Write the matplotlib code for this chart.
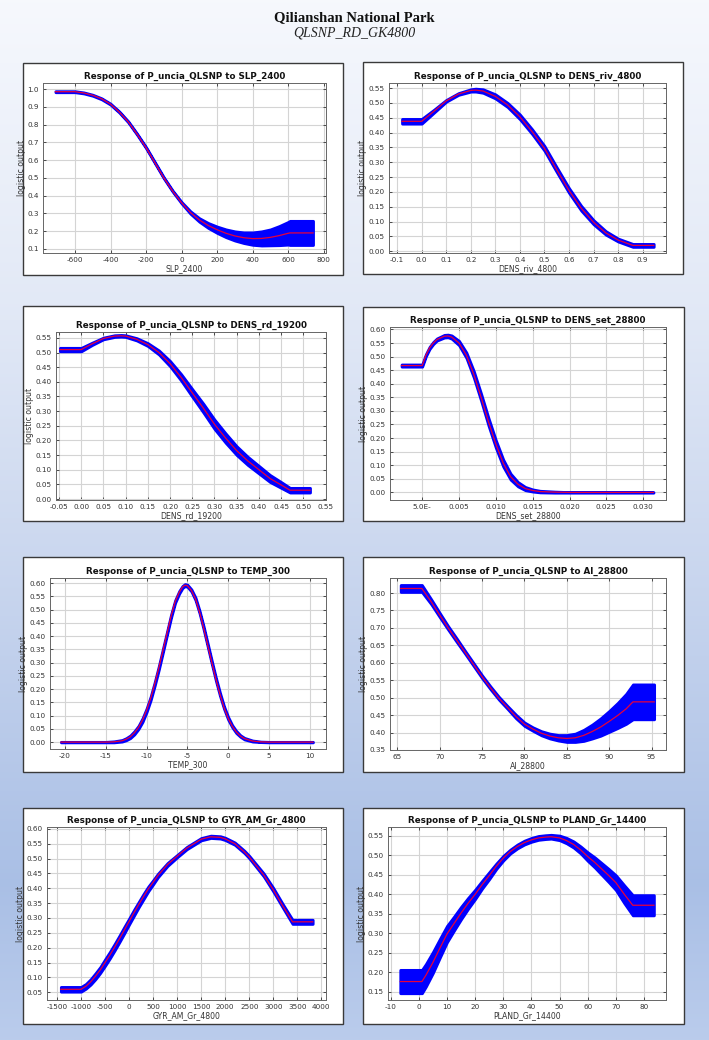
import matplotlib
matplotlib.use("Agg")
import matplotlib.pyplot as plt
import numpy as np
from matplotlib.patches import Rectangle
from matplotlib.ticker import MultipleLocator, FixedLocator, FixedFormatter, FormatStrFormatter

W, H = 709, 1040

# ---- data (mean and +/- sd half-width) ----
slp_x = [-710, -600, -550, -500, -450, -400, -350, -300, -250, -200, -150, -100, -50, 0, 50, 100, 150, 200, 250, 300, 350, 400, 450, 500, 550, 600, 610, 740]
slp_y = [0.985, 0.985, 0.978, 0.965, 0.945, 0.915, 0.87, 0.815, 0.745, 0.67, 0.585, 0.5, 0.425, 0.36, 0.305, 0.263, 0.232, 0.208, 0.188, 0.173, 0.163, 0.158, 0.159, 0.165, 0.175, 0.188, 0.19, 0.19]
slp_sd = [0.003, 0.003, 0.003, 0.003, 0.003, 0.003, 0.003, 0.003, 0.003, 0.003, 0.003, 0.003, 0.003, 0.004, 0.007, 0.01, 0.014, 0.018, 0.022, 0.026, 0.03, 0.035, 0.04, 0.045, 0.054, 0.064, 0.068, 0.068]

riv_x = [-0.08, 0.0, 0.05, 0.1, 0.15, 0.2, 0.22, 0.25, 0.3, 0.35, 0.4, 0.45, 0.5, 0.55, 0.6, 0.65, 0.7, 0.75, 0.8, 0.86, 0.945]
riv_y = [0.438, 0.438, 0.472, 0.507, 0.53, 0.542, 0.543, 0.54, 0.522, 0.493, 0.453, 0.403, 0.347, 0.275, 0.205, 0.145, 0.098, 0.062, 0.038, 0.02, 0.02]
riv_sd = [0.008, 0.008, 0.005, 0.003, 0.003, 0.004, 0.005, 0.006, 0.007, 0.007, 0.008, 0.008, 0.008, 0.008, 0.008, 0.008, 0.007, 0.006, 0.005, 0.005, 0.005]

rd_x = [-0.048, 0.0, 0.025, 0.05, 0.075, 0.09, 0.1, 0.125, 0.15, 0.175, 0.2, 0.225, 0.25, 0.275, 0.3, 0.325, 0.35, 0.375, 0.4, 0.425, 0.45, 0.47, 0.515]
rd_y = [0.51, 0.51, 0.53, 0.548, 0.556, 0.557, 0.556, 0.545, 0.527, 0.5, 0.462, 0.415, 0.362, 0.31, 0.255, 0.208, 0.165, 0.13, 0.1, 0.07, 0.048, 0.03, 0.03]
rd_sd = [0.006, 0.006, 0.004, 0.003, 0.003, 0.003, 0.003, 0.004, 0.005, 0.007, 0.009, 0.011, 0.013, 0.015, 0.016, 0.016, 0.015, 0.014, 0.013, 0.012, 0.01, 0.008, 0.008]

set_x = [-0.0028, 0.0, 0.0005, 0.001, 0.0015, 0.002, 0.003, 0.0035, 0.004, 0.005, 0.006, 0.007, 0.008, 0.009, 0.010, 0.011, 0.012, 0.013, 0.014, 0.015, 0.016, 0.018, 0.020, 0.0314]
set_y = [0.467, 0.467, 0.505, 0.532, 0.55, 0.563, 0.575, 0.576, 0.572, 0.55, 0.505, 0.435, 0.35, 0.26, 0.178, 0.108, 0.058, 0.03, 0.014, 0.007, 0.003, 0.001, 0.0, 0.0]
set_sd = [0.004, 0.004, 0.004, 0.004, 0.004, 0.004, 0.005, 0.005, 0.006, 0.008, 0.01, 0.012, 0.013, 0.014, 0.014, 0.013, 0.011, 0.008, 0.006, 0.004, 0.003, 0.002, 0.001, 0.001]

temp_x = [-20.5, -15, -14, -13, -12.5, -12, -11.5, -11, -10.5, -10, -9.5, -9, -8.5, -8, -7.5, -7, -6.5, -6, -5.6, -5.3, -5, -4.5, -4, -3.5, -3, -2.5, -2, -1.5, -1, -0.5, 0, 0.5, 1, 1.5, 2, 3, 4, 5, 10.4]
temp_y = [0.0, 0.0, 0.001, 0.005, 0.011, 0.02, 0.035, 0.055, 0.083, 0.12, 0.165, 0.22, 0.28, 0.345, 0.41, 0.475, 0.53, 0.565, 0.585, 0.592, 0.59, 0.572, 0.54, 0.49, 0.43, 0.365, 0.3, 0.237, 0.18, 0.13, 0.09, 0.06, 0.038, 0.023, 0.013, 0.004, 0.001, 0.0, 0.0]
temp_sd = [0.001, 0.001, 0.002, 0.003, 0.004, 0.005, 0.006, 0.006, 0.007, 0.007, 0.007, 0.007, 0.007, 0.007, 0.006, 0.006, 0.005, 0.005, 0.004, 0.004, 0.004, 0.004, 0.005, 0.005, 0.006, 0.006, 0.006, 0.006, 0.006, 0.005, 0.005, 0.004, 0.004, 0.003, 0.003, 0.002, 0.001, 0.001, 0.001]

ai_x = [65.4, 67.9, 69, 70, 71, 72, 73, 74, 75, 76, 77, 78, 79, 80, 81, 82, 83, 84, 85, 86, 87, 88, 89, 90, 91, 92, 92.8, 95.3]
ai_y = [0.813, 0.813, 0.775, 0.737, 0.7, 0.665, 0.63, 0.595, 0.56, 0.528, 0.498, 0.472, 0.446, 0.424, 0.41, 0.398, 0.39, 0.385, 0.383, 0.385, 0.392, 0.403, 0.416, 0.432, 0.449, 0.468, 0.488, 0.488]
ai_sd = [0.01, 0.01, 0.007, 0.006, 0.005, 0.005, 0.004, 0.004, 0.004, 0.004, 0.004, 0.004, 0.005, 0.005, 0.005, 0.006, 0.007, 0.008, 0.01, 0.012, 0.016, 0.02, 0.025, 0.03, 0.036, 0.043, 0.05, 0.05]

gyr_x = [-1420, -1000, -900, -800, -700, -600, -500, -400, -300, -200, -100, 0, 100, 200, 300, 400, 500, 600, 800, 1000, 1200, 1400, 1500, 1700, 1900, 2000, 2200, 2400, 2500, 2800, 3000, 3200, 3400, 3820]
gyr_y = [0.06, 0.06, 0.07, 0.085, 0.104, 0.125, 0.15, 0.175, 0.202, 0.23, 0.259, 0.288, 0.317, 0.345, 0.372, 0.398, 0.42, 0.443, 0.48, 0.508, 0.535, 0.555, 0.565, 0.573, 0.571, 0.566, 0.55, 0.522, 0.505, 0.445, 0.395, 0.34, 0.287, 0.287]
gyr_sd = [0.008, 0.008, 0.008, 0.009, 0.01, 0.01, 0.011, 0.011, 0.011, 0.011, 0.011, 0.01, 0.01, 0.009, 0.009, 0.008, 0.007, 0.006, 0.005, 0.004, 0.004, 0.004, 0.004, 0.004, 0.004, 0.004, 0.004, 0.004, 0.004, 0.005, 0.006, 0.006, 0.007, 0.007]

pland_x = [-6.6, 1.1, 2.5, 5, 7.5, 10, 12.5, 15, 17.5, 20, 22.5, 25, 27.5, 30, 32.5, 35, 37.5, 40, 42.5, 45, 47, 50, 52.5, 55, 57.5, 60, 62.5, 65, 67.5, 70, 73, 76, 83.5]
pland_y = [0.176, 0.176, 0.192, 0.225, 0.262, 0.298, 0.325, 0.352, 0.377, 0.4, 0.425, 0.448, 0.472, 0.493, 0.51, 0.523, 0.533, 0.54, 0.545, 0.547, 0.548, 0.545, 0.538, 0.528, 0.514, 0.497, 0.482, 0.465, 0.448, 0.43, 0.4, 0.372, 0.372]
pland_sd = [0.03, 0.03, 0.029, 0.027, 0.024, 0.021, 0.018, 0.016, 0.014, 0.012, 0.01, 0.009, 0.007, 0.006, 0.005, 0.005, 0.005, 0.005, 0.005, 0.005, 0.005, 0.006, 0.007, 0.008, 0.009, 0.011, 0.013, 0.015, 0.017, 0.019, 0.023, 0.026, 0.026]

variables = ["SLP_2400", "DENS_riv_4800", "DENS_rd_19200", "DENS_set_28800",
             "TEMP_300", "AI_28800", "GYR_AM_Gr_4800", "PLAND_Gr_14400"]
curves = [(slp_x, slp_y, slp_sd), (riv_x, riv_y, riv_sd), (rd_x, rd_y, rd_sd),
          (set_x, set_y, set_sd), (temp_x, temp_y, temp_sd), (ai_x, ai_y, ai_sd),
          (gyr_x, gyr_y, gyr_sd), (pland_x, pland_y, pland_sd)]

# panel layout in pixels: box (l, t, r, b), axes (l, t, r, b)
boxes = [(23, 63, 343, 275), (363, 62, 683, 274),
         (23, 306, 343, 521), (363, 307, 684, 521),
         (23, 557, 343, 772), (363, 557, 684, 772),
         (23, 808, 343, 1024), (363, 808, 684, 1024)]
axrects = [(43, 83, 326, 253), (389, 83, 666, 253),
           (56, 332, 326, 500), (390, 327, 666, 500),
           (50, 578, 326, 749), (390, 578, 666, 750),
           (47, 827, 326, 1000), (388, 827, 666, 1000)]
xlims = [(-780, 813), (-0.133, 0.995), (-0.0568, 0.551), (-0.00437, 0.0331),
         (-21.84, 12.0), (64.14, 96.7), (-1708, 4097), (-10.95, 87.8)]
ylims = [(0.077, 1.034), (-0.0056, 0.567), (-0.0034, 0.570), (-0.028, 0.609),
         (-0.026, 0.619), (0.35, 0.843), (0.024, 0.606), (0.1286, 0.573)]
xsteps = [200, 0.1, 0.05, 0.005, 5, 5, 500, 10]
ysteps = [0.1, 0.05, 0.05, 0.05, 0.05, 0.05, 0.05, 0.05]
yfmt = ["%.1f", "%.2f", "%.2f", "%.2f", "%.2f", "%.2f", "%.2f", "%.2f"]
xfmt = ["%d", "%.1f", "%.2f", "%.3f", "%d", "%d", "%d", "%d"]

fig = plt.figure(figsize=(W / 100, H / 100), dpi=100)

# background gradient (light at top, blue toward the bottom)
bg = fig.add_axes([0, 0, 1, 1], zorder=-10)
stops = [0.0, 0.3, 0.55, 0.85, 1.0]
cols = np.array([[0.965, 0.973, 0.992], [0.885, 0.912, 0.965], [0.79, 0.84, 0.935],
                 [0.665, 0.75, 0.9], [0.73, 0.8, 0.925]])
t = np.linspace(0, 1, 400)
grad = np.stack([np.interp(t, stops, cols[:, k]) for k in range(3)], axis=1)
bg.imshow(grad[:, None, :].repeat(2, axis=1), aspect="auto", extent=[0, 1, 0, 1])
bg.set_axis_off()

fig.text(0.5, 1 - 18 / H, "Qilianshan National Park", ha="center", va="center",
         family="Liberation Serif", weight="bold", fontsize=10.5, color="#111111")
fig.text(0.5, 1 - 33 / H, "QLSNP_RD_GK4800", ha="center", va="center",
         family="Liberation Serif", style="italic", fontsize=10, color="#222222")

for i, var in enumerate(variables):
    bl, bt, br, bb = boxes[i]
    fig.patches.append(Rectangle((bl / W, 1 - bb / H), (br - bl) / W, (bb - bt) / H,
                                 transform=fig.transFigure, facecolor="white",
                                 edgecolor="#3a3a3a", linewidth=1.0, zorder=-5))
    al, at, ar, ab = axrects[i]
    ax = fig.add_axes([al / W, 1 - ab / H, (ar - al) / W, (ab - at) / H])
    x, y, sd = curves[i]
    x = np.array(x); y = np.array(y); sd = np.array(sd)
    ax.fill_between(x, y - sd, y + sd, color="#0000ff", edgecolor="#0000ff",
                    linewidth=2.0, zorder=2)
    ax.plot(x, y, color="#e8003a", linewidth=0.9, zorder=3)
    ax.set_xlim(*xlims[i])
    ax.set_ylim(*ylims[i])
    ax.xaxis.set_major_locator(MultipleLocator(xsteps[i]))
    ax.yaxis.set_major_locator(MultipleLocator(ysteps[i]))
    ax.yaxis.set_major_formatter(FormatStrFormatter(yfmt[i]))
    ax.xaxis.set_major_formatter(FormatStrFormatter(xfmt[i]))
    if var == "DENS_set_28800":
        ticks = [0.0, 0.005, 0.010, 0.015, 0.020, 0.025, 0.030]
        ax.xaxis.set_major_locator(FixedLocator(ticks))
        ax.xaxis.set_major_formatter(FixedFormatter(["5.0E-", "0.005", "0.010", "0.015",
                                                     "0.020", "0.025", "0.030"]))
    ax.grid(True, color="#d4d4d4", linewidth=0.8, zorder=0)
    ax.set_axisbelow(True)
    ax.tick_params(direction="in", top=True, right=True, length=2.5, width=0.6,
                   labelsize=5.2, colors="#333333", pad=3)
    for s in ax.spines.values():
        s.set_color("#666666")
        s.set_linewidth(0.7)
    ax.set_title("Response of P_uncia_QLSNP to " + var, fontsize=6.3,
                 fontweight="bold", pad=3, color="#111111")
    ax.set_xlabel(var, fontsize=5.6, labelpad=1, color="#333333")
    ax.set_ylabel("logistic output", fontsize=5.6, labelpad=1, color="#333333")

fig.savefig("out.png", dpi=100)
